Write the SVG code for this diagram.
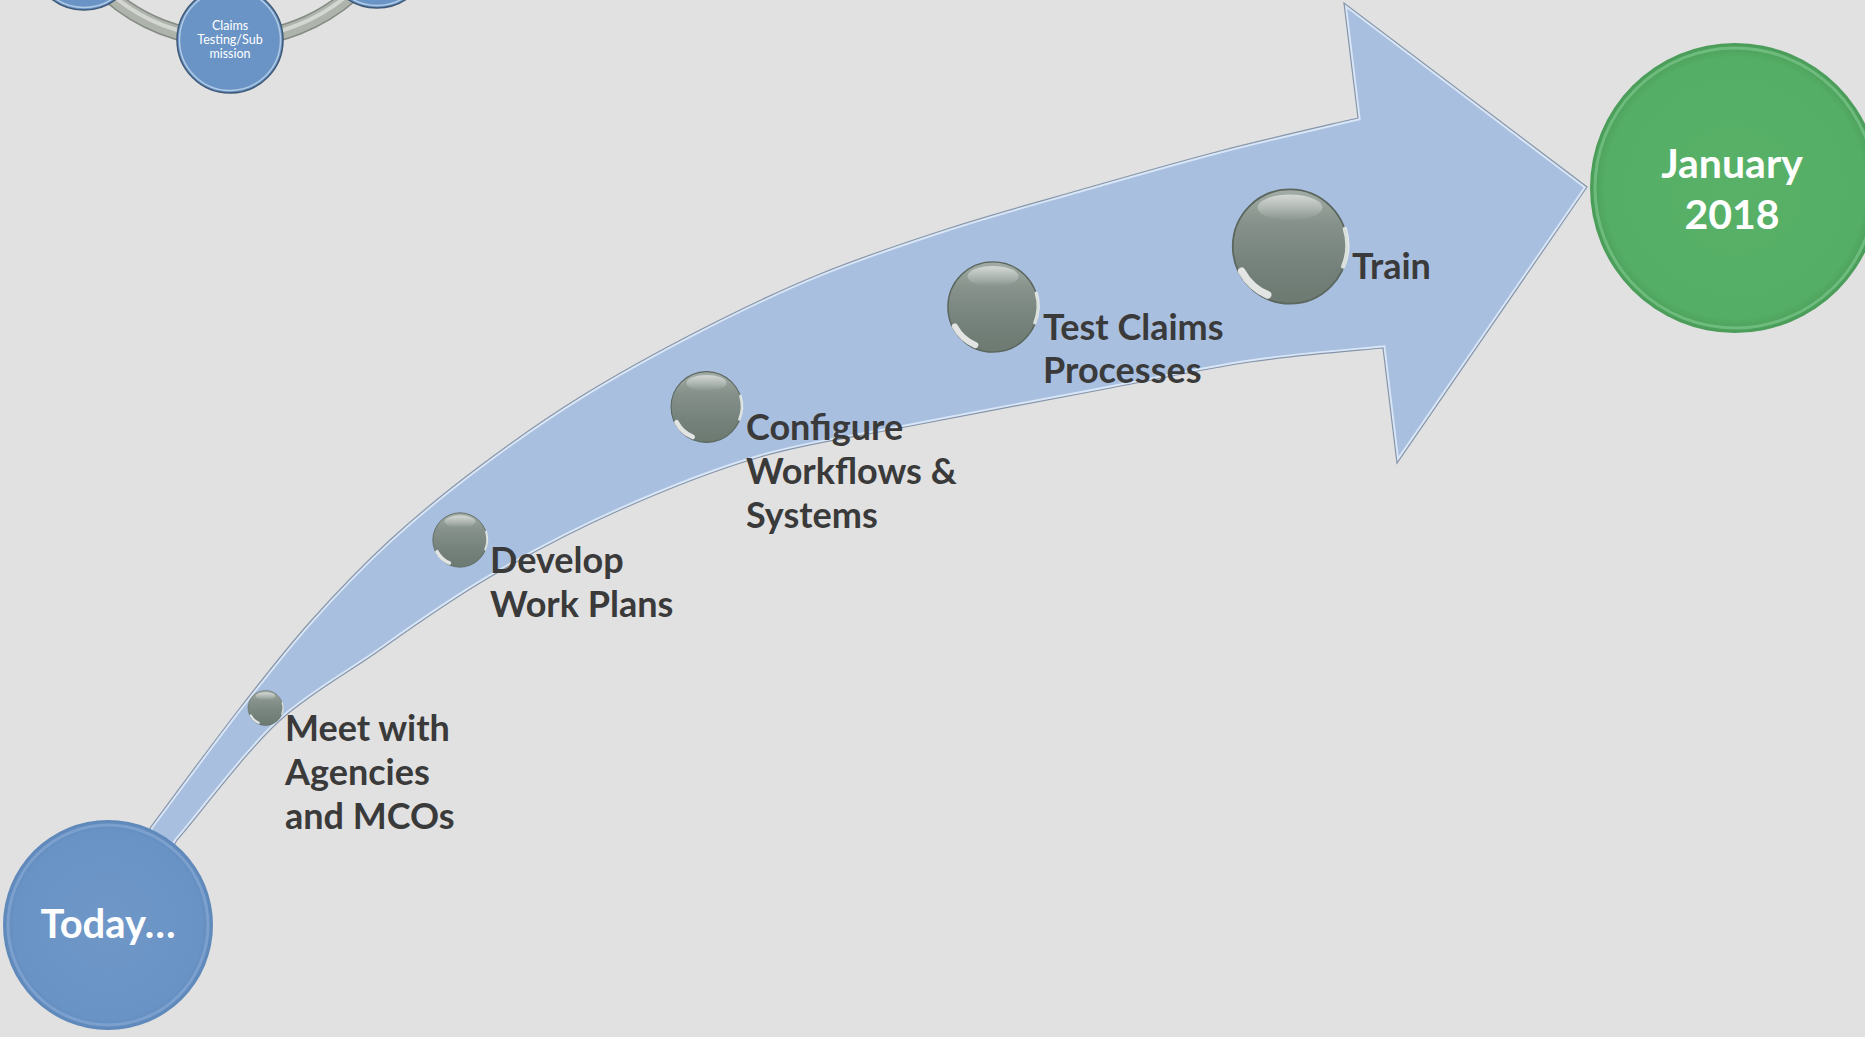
<svg xmlns="http://www.w3.org/2000/svg" xmlns:xlink="http://www.w3.org/1999/xlink" width="1865" height="1037" viewBox="0 0 1865 1037">
  <defs>
    <style>
      .label { font-family: Lato, "Open Sans", "Liberation Sans", sans-serif; font-weight: 700; font-size: 36px; fill: #3a3a3a; }
      .big { font-family: Lato, "Open Sans", "Liberation Sans", sans-serif; font-weight: 700; font-size: 40px; fill: #ffffff; text-anchor: middle; }
      .small { font-family: Lato, "Open Sans", "Liberation Sans", sans-serif; font-weight: 400; font-size: 12.5px; fill: #ffffff; text-anchor: middle; }
    </style>
    <linearGradient id="sphG" x1="0" y1="0" x2="0" y2="1">
      <stop offset="0" stop-color="#a3ada5"/>
      <stop offset="0.3" stop-color="#85918a"/>
      <stop offset="0.7" stop-color="#74817a"/>
      <stop offset="1" stop-color="#6d7a72"/>
    </linearGradient>
    <linearGradient id="hiG" x1="0" y1="0" x2="0" y2="1">
      <stop offset="0" stop-color="#ffffff" stop-opacity="0.55"/>
      <stop offset="1" stop-color="#ffffff" stop-opacity="0"/>
    </linearGradient>
    <radialGradient id="blueG" cx="0.5" cy="0.5" r="0.5">
      <stop offset="0" stop-color="#6f98c9"/>
      <stop offset="0.9" stop-color="#6a93c5"/>
      <stop offset="1" stop-color="#5f88ba"/>
    </radialGradient>
    <radialGradient id="greenG" cx="0.5" cy="0.5" r="0.5">
      <stop offset="0" stop-color="#59b168"/>
      <stop offset="0.9" stop-color="#55ae65"/>
      <stop offset="1" stop-color="#4a9c59"/>
    </radialGradient>
    <symbol id="sphere" viewBox="-1 -1 2 2" overflow="visible">
      <circle r="0.97" fill="url(#sphG)" stroke="#5a665e" stroke-width="0.03"/>
      <ellipse cx="0" cy="-0.66" rx="0.55" ry="0.22" fill="url(#hiG)"/>
      <path d="M -0.82 0.42 A 0.9 0.9 0 0 0 -0.38 0.82" fill="none" stroke="#ffffff" stroke-width="0.13" stroke-linecap="round" opacity="0.8"/>
      <path d="M 0.93 -0.3 A 0.96 0.96 0 0 1 0.9 0.34" fill="none" stroke="#eef3ef" stroke-width="0.07" stroke-linecap="round" opacity="0.85"/>
    </symbol>
    <path id="arrowPath" d="M 150 828 C 165 808 213.3 742.3 240 708 C 266.7 673.7 285 650 310 622 C 335 594 361.7 566 390 540 C 418.3 514 448.3 489.8 480 466 C 511.7 442.2 543.3 419.7 580 397 C 616.7 374.3 660 350.5 700 330 C 740 309.5 778.3 291 820 274 C 861.7 257 906.7 242 950 228 C 993.3 214 1035 202.8 1080 190 C 1125 177.2 1173.7 163 1220 151 C 1266.3 139 1335 123.5 1358 118 L 1344 3 L 1587 187 L 1397 463 L 1383 348 C 1360.8 350.3 1297.2 355 1250 362 C 1202.8 369 1158.3 379 1100 390 C 1041.7 401 956.7 416.8 900 428 C 843.3 439.2 806.7 443.3 760 457 C 713.3 470.7 665 490 620 510 C 575 530 530 553.7 490 577 C 450 600.3 414.2 625.8 380 650 C 345.8 674.2 318.8 688 285 716 C 251.2 744 195 820.3 177 840 L 160 870 Z"/>
    <clipPath id="arrowClip"><use xlink:href="#arrowPath"/></clipPath>
  </defs>

  <rect width="1865" height="1037" fill="#e1e1e1"/>

  <g id="cycle-fragment">
    <circle cx="230" cy="-145" r="185" fill="none" stroke="#848b83" stroke-width="16"/>
    <circle cx="230" cy="-145" r="185" fill="none" stroke="#aeb3ac" stroke-width="13"/>
    <circle cx="230" cy="-145" r="183" fill="none" stroke="#d3d6d1" stroke-width="4"/>
    <g id="node-cycle-left">
      <circle cx="84" cy="-43" r="53" fill="#6a94c5" stroke="#3e5876" stroke-width="1.5"/>
      <circle cx="84" cy="-43" r="50.5" fill="none" stroke="#c2d8ee" stroke-width="1.5" opacity="0.8"/>
    </g>
    <g id="node-cycle-right">
      <circle cx="377" cy="-45" r="53" fill="#6a94c5" stroke="#3e5876" stroke-width="1.5"/>
      <circle cx="377" cy="-45" r="50.5" fill="none" stroke="#c2d8ee" stroke-width="1.5" opacity="0.8"/>
    </g>
    <g id="node-claims-testing">
      <circle cx="230" cy="40" r="53" fill="#6a94c5" stroke="#3e5876" stroke-width="1.5"/>
      <circle cx="230" cy="40" r="50.5" fill="none" stroke="#c2d8ee" stroke-width="1.5" opacity="0.8"/>
      <text class="small" x="230" y="30">Claims</text>
      <text class="small" x="230" y="44">Testing/Sub</text>
      <text class="small" x="230" y="58">mission</text>
    </g>
  </g>

  <g id="connectors">
    <g id="timeline-arrow">
      <use xlink:href="#arrowPath" fill="#a9bfdf"/>
      <use xlink:href="#arrowPath" fill="none" stroke="#d9e6f6" stroke-width="5" clip-path="url(#arrowClip)"/>
      <use xlink:href="#arrowPath" fill="none" stroke="#8796ab" stroke-width="1.2"/>
    </g>
  </g>

  <g id="node-today">
    <circle cx="108" cy="925" r="105" fill="url(#blueG)"/>
    <circle cx="108" cy="925" r="100" fill="none" stroke="#a9c6ea" stroke-width="3" opacity="0.35"/>
    <text class="big" x="108" y="938">Today…</text>
  </g>

  <g id="node-january-2018">
    <circle cx="1735" cy="188" r="145" fill="url(#greenG)"/>
    <circle cx="1735" cy="188" r="140" fill="none" stroke="#95dca3" stroke-width="3" opacity="0.45"/>
    <text class="big" x="1732" y="178" style="font-size:41px">January</text>
    <text class="big" x="1732" y="229" style="font-size:41px">2018</text>
  </g>

  <g id="node-meet">
    <use xlink:href="#sphere" x="247.5" y="690" width="36" height="36"/>
    <text class="label" x="285" y="741">Meet with</text>
    <text class="label" x="285" y="785">Agencies</text>
    <text class="label" x="285" y="829">and MCOs</text>
  </g>

  <g id="node-develop">
    <use xlink:href="#sphere" x="432" y="512" width="56" height="56"/>
    <text class="label" x="490" y="573">Develop</text>
    <text class="label" x="490" y="617">Work Plans</text>
  </g>

  <g id="node-configure">
    <use xlink:href="#sphere" x="670" y="370.5" width="73" height="73"/>
    <text class="label" x="746" y="440">Configure</text>
    <text class="label" x="746" y="484">Workflows &amp;</text>
    <text class="label" x="746" y="528">Systems</text>
  </g>

  <g id="node-test-claims">
    <use xlink:href="#sphere" x="946.5" y="260.5" width="93" height="93"/>
    <text class="label" x="1043" y="340">Test Claims</text>
    <text class="label" x="1043" y="383">Processes</text>
  </g>

  <g id="node-train">
    <use xlink:href="#sphere" x="1231" y="187.5" width="118" height="118"/>
    <text class="label" x="1352" y="279">Train</text>
  </g>
</svg>
